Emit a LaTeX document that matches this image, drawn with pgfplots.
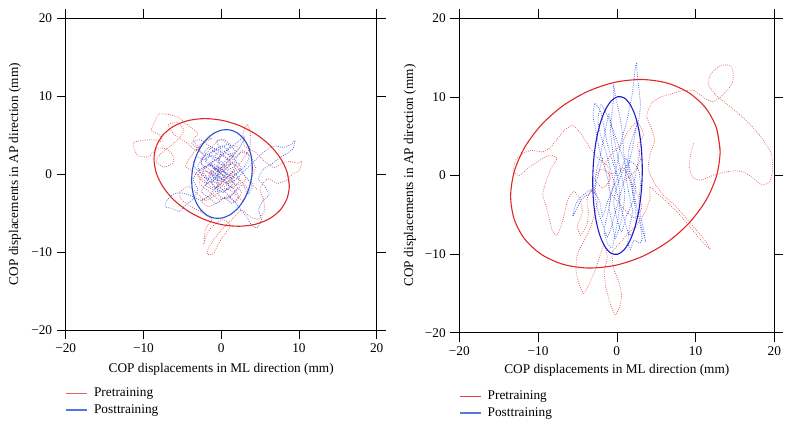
\documentclass[border=0pt]{standalone}
\usepackage{pgfplots}
\pgfplotsset{compat=1.18}
\usepackage{fontspec}
\setmainfont{Liberation Serif}
\definecolor{ellred}{RGB}{222,40,40}
\definecolor{ellblueA}{RGB}{40,80,215}
\definecolor{ellblueB}{RGB}{30,30,200}
\definecolor{trred}{RGB}{232,90,90}
\definecolor{trblue}{RGB}{70,100,230}
\definecolor{legredA}{RGB}{235,95,95}
\definecolor{legblueA}{RGB}{85,115,225}
\definecolor{legredB}{RGB}{225,60,80}
\definecolor{legblueB}{RGB}{90,120,220}
\pgfplotsset{
  copstyle/.style={
    scale only axis,
    xmin=-20, xmax=20, ymin=-20, ymax=20,
    xtick={-20,-10,0,10,20}, ytick={-20,-10,0,10,20},
    xticklabels={−20,−10,0,10,20}, yticklabels={−20,−10,0,10,20},
    tick align=outside, major tick length=9pt,
    tick style={black, line width=0.6pt},
    axis line style={line width=0.6pt},
    xlabel={COP displacements in ML direction (mm)},
    ylabel={COP displacements in AP direction (mm)},
    legend cell align=left,
    legend image code/.code={\draw[#1] (0pt,0pt) -- (21pt,0pt);},
    legend style={draw=none, fill=none, inner sep=0pt, row sep=2pt, column sep=4pt, anchor=north west},
  },
  trace/.style={smooth, tension=0.35, line width=0.75pt, dash pattern=on 0.8pt off 1.4pt},
}
\begin{document}
\fontsize{13.3}{16}\selectfont
\begin{tikzpicture}
\useasboundingbox (0,0) rectangle (790pt,426pt);
% ---------------- left panel ----------------
\begin{axis}[copstyle, at={(65.7pt,96pt)}, anchor=south west, width=311pt, height=312pt,
  xlabel style={at={(axis description cs:0.5,-0.125)}, anchor=center},
  ylabel style={at={(axis description cs:-0.163,0.5)}, anchor=center},
  legend style={at={(axis description cs:0,-0.178)}}]
\addplot[trred, trace, forget plot] coordinates {
(-1.0,0.0) (0.5,-0.5) (-0.8,0.6) (-1.9,1.8) (-2.8,3.2) (-3.6,4.4) (-3.0,5.2) (-4.2,6.2) (-5.4,7.2) (-6.6,7.6) (-8.0,7.7) (-8.6,6.6) (-9.0,5.6) (-7.9,5.0) (-7.6,4.2) (-8.8,4.4) (-10.2,4.3) (-11.3,4.0) (-11.1,3.0) (-10.7,2.3) (-9.3,2.2) (-8.3,3.3) (-7.0,3.2) (-6.1,2.2) (-6.3,1.3) (-7.4,0.9) (-8.4,1.6) (-7.8,2.6) (-6.5,3.6) (-5.4,4.6) (-4.8,5.6) (-5.6,6.6) (-6.8,6.3) (-6.0,5.0) (-4.5,4.1) (-3.2,3.0) (-2.2,4.2) (-1.2,4.6) (-2.6,3.8) (-3.8,2.4) (-4.6,1.0) (-3.4,0.2) (-2.2,-0.8) (-1.0,-1.8) (0.2,-1.0) (1.4,0.2) (2.6,1.6) (3.6,3.2) (3.8,4.8) (3.4,6.4) (2.8,5.2) (3.0,3.6) (4.4,2.8) (5.6,1.6) (6.8,0.8) (7.8,1.4) (8.8,1.6) (9.8,1.4) (10.4,1.6) (10.0,0.4) (9.2,0.0) (8.4,-0.8) (7.2,-1.2) (6.0,-0.6) (5.0,-1.8) (5.4,-3.2) (5.6,-4.6) (4.8,-5.8) (3.6,-5.4) (2.6,-4.6) (1.6,-5.6) (0.8,-6.4) (0.0,-7.2) (-0.8,-8.2) (-1.6,-9.4) (-1.8,-10.3) (-1.0,-10.2) (-0.4,-9.0) (0.4,-7.8) (1.2,-6.6) (0.2,-5.8) (-1.0,-6.6) (-1.8,-7.6) (-2.2,-8.8) (-2.0,-7.0) (-1.2,-5.8) (-2.4,-5.0) (-3.8,-4.2) (-5.0,-3.4) (-5.4,-2.4) (-4.2,-1.6) (-3.0,-2.6) (-2.0,-3.4) (-0.6,-2.6) (0.6,-1.8) (1.8,-2.6) (2.8,-3.4) (3.4,-2.0) (2.4,-0.8) (1.2,-0.2) (0.0,0.6) (-1.2,1.6) (-0.4,2.8) (0.8,2.0) (1.8,1.0) (0.6,-0.6) (-0.6,-1.2) (-1.6,-0.2) (-0.8,0.6) (0.6,1.2) (1.6,2.4) (2.2,3.4) (1.0,3.8) (-0.2,4.4) (-1.6,3.0) (-2.6,1.6) (-1.8,0.2) (-0.4,-0.4) (1.0,-1.4) (2.0,-2.0) (1.0,-3.0) (-0.4,-3.2) (-1.6,-2.2) (-2.8,-1.2) (-2.2,0.4) (-1.0,0.0) (0.2,0.8) (1.4,1.4) (2.4,0.6) (3.2,-0.6) (2.2,-1.4) (1.0,-0.8) (-0.2,-1.8) (-1.4,-2.8) (-2.6,-3.4) (-1.6,-4.2) (-0.4,-3.6) (0.8,-2.8) (1.8,-3.6) (2.6,-2.4) (1.6,-1.2) (0.4,-0.2) (-0.8,0.8) (-2.0,1.0) (-3.0,-0.2) (-2.0,-1.2) (-0.8,-1.0) (0.4,-1.6) (1.6,-0.4) (0.6,0.6) (-0.4,1.8) (0.6,2.6) (1.8,2.2) (2.8,3.0) (3.8,2.2) (4.4,0.8) (3.8,-0.8) (4.6,-2.0)
};
\addplot[trblue, trace, forget plot] coordinates {
(0,0) (-1,0.8) (-2,1.6) (-1.2,2.4) (0,1.6) (1,0.6) (2,1.4) (1.2,2.6) (0.2,3.6) (-1,3) (-2.2,2.2) (-3,1) (-2.4,-0.2) (-1.4,-1) (-0.2,-0.4) (1,-1.2) (2,-0.6) (3,0.4) (4,1.4) (5,2.4) (6,3.2) (7,3.6) (8,3.4) (9,3.8) (9.5,4.3) (9.2,3.2) (8.4,2.6) (7.4,2) (6.4,1.2) (5.4,0.6) (4.8,-0.6) (5.6,-1.6) (6.2,-2.6) (5.4,-3.4) (4.8,-4.6) (5.2,-5.8) (4.6,-6.9) (3.8,-6.4) (3.2,-5.4) (2.4,-4.4) (1.6,-3.4) (0.6,-2.4) (-0.4,-1.6) (-1.4,-2.6) (-2.4,-3.4) (-3.4,-3) (-4.4,-2.6) (-5.4,-2.4) (-6.2,-2.6) (-7,-3.4) (-7.2,-4.2) (-6.4,-4.4) (-5.4,-4.8) (-4.6,-4) (-3.6,-3.2) (-3,-2) (-3.6,-0.8) (-3,0.4) (-2,1) (-1,1.6) (0,2.4) (1,3.2) (2,4) (3,4.8) (2.4,3.4) (1.4,2.2) (0.4,1.2) (-0.6,0.2) (-1.6,-0.6) (-2.4,0.4) (-1.4,1.2) (-0.4,0.4) (0.6,-0.4) (1.6,0.2) (2.4,-0.8) (1.4,-1.8) (0.4,-1) (-0.6,-0.8) (-1.4,0.2) (-0.6,1) (0.4,0.6) (1.2,1.4) (0.4,2.2) (-0.6,2.6) (-1.6,3.4) (-2.4,2.6) (-3.2,3.4) (-3.8,4) (-2.8,4.4) (-1.8,3.8) (-0.8,3.2) (0.2,2.8) (1.2,3.6) (0.4,4.4) (-0.6,4.2) (0,3) (-0.4,1.2) (-0.4,-2.6) (0.8,-3.2) (1.8,-2.2) (2.8,-1.4) (3.4,-2.6) (4,-1.6) (3.2,-0.4) (2.2,0.6) (1,-0.2) (0,-1.2) (-1,-2) (-2,-1.4) (-1.4,-0.2) (-0.4,0.8) (0.6,0.2) (1.6,-1) (0.8,-2) (-0.2,-2.2) (-1.2,-1.2) (-0.2,0) (0.8,0.8) (1.8,1.6) (2.6,0.8) (1.6,-0.2) (0.6,-1.2) (-0.4,-0.2) (-1.6,0.6) (-2.6,1.4) (-2.0,2.6) (-1.0,2.0) (0.0,1.2) (1.0,2.2) (1.8,3.0) (0.8,3.8) (-0.2,3.2) (-1.2,2.8) (-2.2,1.8) (-3.2,2.2) (-3.6,1.2) (-2.8,0.2) (-1.8,-0.6) (-0.8,-1.6) (0.2,-2.4) (1.2,-1.6) (2.2,-2.8) (1.4,-3.8) (0.4,-3.0) (-0.6,-3.8) (-1.6,-3.0) (-2.6,-2.2) (-1.8,-1.2) (-0.8,-0.4) (0.2,0.4) (1.2,-0.6) (2.2,0.2) (3.2,1.2) (3.6,2.4) (2.6,2.8) (1.6,1.8) (0.6,2.8) (-0.4,2.0) (-1.4,1.4) (-0.4,0.6) (0.6,0.0) (-0.2,-0.8) (-1.2,-0.2)
};
\addplot[ellred, line width=1.1pt, smooth, forget plot] coordinates {
(8.76,-1.50) (8.46,0.29) (7.59,2.07) (6.21,3.73) (4.41,5.14) (2.31,6.22) (0.06,6.89) (-2.19,7.10) (-4.29,6.84) (-6.09,6.13) (-7.47,5.02) (-8.34,3.57) (-8.64,1.90) (-8.34,0.11) (-7.47,-1.67) (-6.09,-3.33) (-4.29,-4.74) (-2.19,-5.82) (0.06,-6.49) (2.31,-6.70) (4.41,-6.44) (6.21,-5.73) (7.59,-4.62) (8.46,-3.17) (8.76,-1.50) (8.46,0.29)
};
\addplot[ellblueA, line width=1.1pt, smooth, forget plot] coordinates {
(4.00,0.80) (3.87,2.23) (3.48,3.51) (2.86,4.55) (2.05,5.28) (1.11,5.65) (0.10,5.64) (-0.91,5.24) (-1.85,4.48) (-2.66,3.42) (-3.28,2.13) (-3.67,0.69) (-3.80,-0.80) (-3.67,-2.23) (-3.28,-3.51) (-2.66,-4.55) (-1.85,-5.28) (-0.91,-5.65) (0.10,-5.64) (1.11,-5.24) (2.05,-4.48) (2.86,-3.42) (3.48,-2.13) (3.87,-0.69) (4.00,0.80) (3.87,2.23)
};
\addlegendimage{color=legredA, line width=1.2pt}
\addlegendentry{Pretraining}
\addlegendimage{color=legblueA, line width=1.2pt}
\addlegendentry{Posttraining}
\end{axis}
% ---------------- right panel ----------------
\begin{axis}[copstyle, at={(459.3pt,93.3pt)}, anchor=south west, width=315pt, height=314.4pt,
  xlabel style={at={(axis description cs:0.5,-0.119)}, anchor=center},
  ylabel style={at={(axis description cs:-0.157,0.5)}, anchor=center},
  legend style={at={(axis description cs:0,-0.178)}}]
\addplot[trred, trace, forget plot] coordinates {
(1.0,-0.6) (2.2,0.4) (3.0,2.0) (2.6,3.8) (3.4,5.2) (2.6,6.8) (1.4,5.6) (0.6,4.0) (-0.6,2.8) (-1.6,1.2) (-0.8,-0.4) (-1.8,-1.6) (-2.8,-0.4) (-2.0,0.8) (-0.6,0.2) (0.8,1.0) (1.8,-0.8) (2.6,-2.4) (3.2,-4.0) (2.4,-5.4) (1.2,-4.6) (0.0,-3.2) (-1.0,-1.8) (-1,1) (-2.4,2.2) (-3.6,3.8) (-4.6,5.4) (-5.6,6.4) (-6.6,5.8) (-7.6,4.6) (-8.4,3.6) (-9.4,3.0) (-10.8,3.2) (-12,2.8) (-12.8,2.0) (-13.2,0.6) (-12.4,0.0) (-11.2,1.0) (-10.0,1.8) (-8.6,2.6) (-7.6,2.2) (-8.4,0.8) (-9.0,-0.8) (-9.4,-2.4) (-9.0,-3.8) (-8.6,-5.4) (-8.2,-7.0) (-7.6,-7.6) (-7.0,-6.2) (-6.6,-4.6) (-6.2,-3.0) (-5.4,-2.0) (-4.6,-3.2) (-4.4,-4.8) (-5.0,-6.4) (-4.6,-7.6) (-3.8,-6.2) (-3.6,-4.6) (-3.8,-3.0) (-3.0,-1.6) (-2.4,-3.0) (-2.8,-4.8) (-3.4,-6.8) (-4.2,-8.4) (-5.0,-10.0) (-5.2,-12.0) (-4.8,-13.8) (-4.2,-15.0) (-3.6,-14.0) (-2.8,-12.2) (-2.2,-10.4) (-1.6,-8.8) (-1.2,-10.4) (-1.6,-12.2) (-1.4,-14.2) (-0.8,-16.4) (-0.2,-17.7) (0.4,-16.6) (0.6,-15.0) (0.2,-13.4) (-0.4,-11.8) (-0.6,-9.8) (0.4,-8.6) (1.4,-7.4) (2.6,-6.2) (3.6,-4.6) (4.2,-3.0) (4.2,-1.4) (5.0,-2.2) (6.0,-3.0) (7.0,-4.0) (8.0,-5.0) (9.0,-6.2) (10.0,-7.4) (11.0,-8.6) (11.9,-9.4) (11.0,-8.0) (9.8,-6.6) (8.6,-5.2) (7.4,-3.8) (6.0,-2.6) (4.8,-1.0) (4.0,0.8) (4.2,2.6) (4.8,4.4) (4.4,6.0) (3.8,7.6) (4.4,9.2) (5.6,10.0) (7.0,10.4) (8.4,10.8) (9.8,10.8) (11.2,9.8) (12.2,9.4) (13.2,10.0) (14.6,11.6) (14.8,13.0) (14.4,14.0) (13.2,14.0) (12.0,13.0) (11.6,11.6) (12.6,10.2) (13.6,9.4) (14.8,8.4) (16.0,7.4) (17.2,6.2) (18.4,4.8) (19.6,2.8) (19.8,0.8) (19.4,-0.8) (18.4,-1.2) (17.4,-0.4) (16.2,0.4) (15.0,0.6) (13.6,0.4) (12.2,0.0) (10.6,-0.6) (9.6,-0.2) (9.2,1.2) (9.4,2.8) (9.8,4.2)
};
\addplot[trblue, trace, forget plot] coordinates {
(0,0) (-0.6,2) (-1.2,4) (-1.6,6) (-2,8) (-2.8,9.2) (-3,7.4) (-2.6,5.4) (-2.2,3.2) (-1.6,1.2) (-1,-1) (-0.8,-3) (-1.2,-5) (-1.6,-7) (-1.2,-8.6) (-0.6,-9.2) (-0.2,-7.4) (0.2,-5.2) (0.4,-3) (0.2,-0.8) (-0.2,1.4) (-0.6,3.6) (-0.8,5.8) (-0.6,8) (-0.4,10) (-0.4,11.6) (-0.2,10.2) (0.2,8.4) (0.6,6.2) (0.8,4) (1.0,1.8) (1.2,-0.4) (1.6,-2.6) (2.0,-4.6) (1.6,-6.6) (1.4,-8.4) (1.7,-9.4) (2.2,-8.2) (2.8,-8.6) (3.2,-8.2) (3.0,-6.4) (2.6,-4.4) (2.2,-2.4) (1.8,-0.4) (1.4,1.6) (1.6,3.6) (2.2,5.4) (2.8,7.2) (3.0,9.0) (2.8,11.0) (2.6,12.8) (2.5,14.4) (2.2,12.6) (2.0,10.6) (1.6,8.6) (1.2,6.6) (0.6,4.6) (0.2,2.4) (-0.2,0.2) (-0.6,-2) (-1.0,-4) (-0.6,-6) (-0.2,-8) (0.4,-6.4) (0.8,-4.4) (1.0,-2.2) (0.6,0) (0.2,2) (-0.2,4) (-0.6,6) (-1.0,7.8) (-1.4,6) (-1.8,4) (-2.2,2) (-2.6,0.6) (-2.8,-1.4) (-3.4,-2.2) (-4.4,-3.0) (-5.0,-4.0) (-5.6,-5.2) (-5.2,-3.6) (-4.4,-2.6) (-3.2,-1.8) (-2.2,-3.2) (-1.8,-5.2) (-1.2,-3.4) (-0.4,-1.4) (0.4,0.4) (1.2,2.2) (1.8,0.4) (2.4,-1.6) (2.0,-3.4) (1.2,-5.2) (0.6,-7.2) (0.0,-5.4) (-0.4,-3.4) (0.0,-1.4) (0.8,0.6) (1.8,1.8) (2.8,0.6) (3.0,-1.4) (2.8,-3.2) (3.0,-5.0) (3.4,-6.8) (3.6,-8.2) (3.0,-6.0) (2.4,-3.6) (1.8,-1.2) (1.2,1.2) (0.4,3.4) (-0.4,5.6) (-1.2,7.6) (-2.0,9.0) (-2.4,7.0) (-2.0,5.0) (-1.4,3.0) (-0.8,0.8) (-0.2,-1.4) (0.4,-3.6) (1.0,-5.8) (1.6,-7.6) (2.4,-6.6) (2.4,-4.4) (2.0,-2.2) (2.4,0.2) (2.8,2.4) (3.0,4.6) (2.6,6.6) (2.2,4.6) (1.8,2.6) (1.2,0.4) (0.6,-1.8) (0.0,-4.0) (-0.6,-6.2) (-1.2,-7.8) (-1.8,-6.2) (-2.4,-4.4) (-2.8,-2.2) (-2.4,0.0) (-1.8,2.2)
};
\addplot[ellred, line width=1.1pt, smooth, forget plot] coordinates {
(13.12,3.08) (12.67,6.00) (11.34,8.52) (9.22,10.48) (6.47,11.74) (3.26,12.21) (-0.18,11.87) (-3.62,10.73) (-6.83,8.88) (-9.58,6.44) (-11.70,3.57) (-13.03,0.47) (-13.48,-2.64) (-13.03,-5.56) (-11.70,-8.08) (-9.58,-10.04) (-6.83,-11.30) (-3.62,-11.77) (-0.18,-11.43) (3.26,-10.29) (6.47,-8.44) (9.22,-6.00) (11.34,-3.13) (12.67,-0.03) (13.12,3.08) (12.67,6.00)
};
\addplot[ellblueB, line width=1.1pt, smooth, forget plot] coordinates {
(3.24,0.80) (3.13,3.37) (2.82,5.70) (2.32,7.65) (1.67,9.08) (0.91,9.89) (0.09,10.02) (-0.73,9.47) (-1.49,8.28) (-2.14,6.52) (-2.64,4.32) (-2.95,1.82) (-3.06,-0.80) (-2.95,-3.37) (-2.64,-5.70) (-2.14,-7.65) (-1.49,-9.08) (-0.73,-9.89) (0.09,-10.02) (0.91,-9.47) (1.67,-8.28) (2.32,-6.52) (2.82,-4.32) (3.13,-1.82) (3.24,0.80) (3.13,3.37)
};
\addlegendimage{color=legredB, line width=1.2pt}
\addlegendentry{Pretraining}
\addlegendimage{color=legblueB, line width=1.2pt}
\addlegendentry{Posttraining}
\end{axis}
\end{tikzpicture}
\end{document}
